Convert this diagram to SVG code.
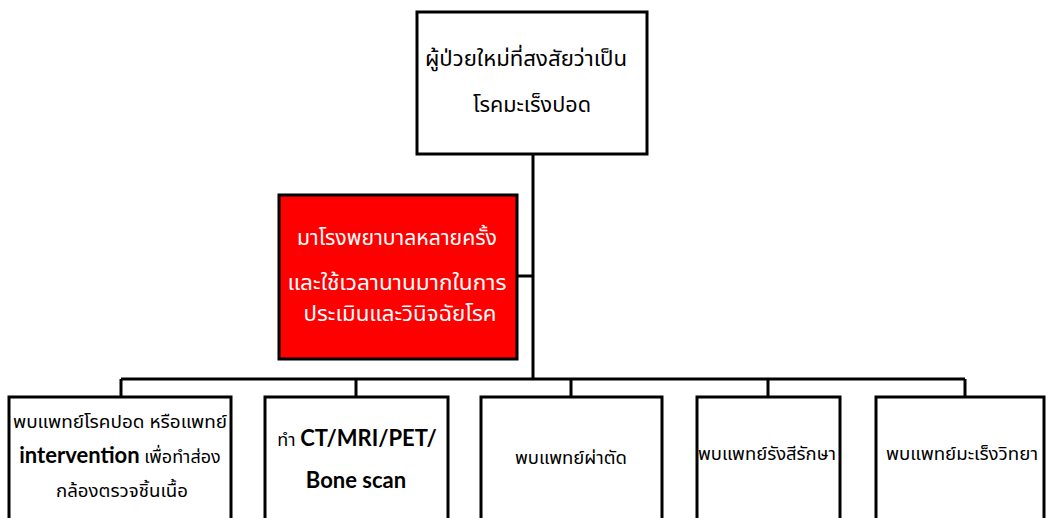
<svg xmlns="http://www.w3.org/2000/svg" width="1048" height="518" viewBox="0 0 1048 518">
<style>
.box{fill:#fff;stroke:#000;stroke-width:3}
.red{fill:#ff0000;stroke:#000;stroke-width:3}
.ln{fill:none;stroke:#000;stroke-width:3}
text{font-family:"Noto Sans Thai","Noto Sans","DejaVu Sans",sans-serif;font-size:21px;fill:#000;text-anchor:middle}
.w{fill:#fff}
.en{font-family:Lato,"Open Sans",sans-serif;font-weight:bold;font-size:22px}
.sm{font-size:18px}
</style>
<rect width="1048" height="518" fill="#fff"/>
<g id="connectors">
<path class="ln" d="M533 154V379M517 276H533M121 379H965M121 379V397M356 379V397M571 379V397M768 379V397M965 379V397"/>
</g>
<g id="n-top">
<rect class="box" x="417" y="12" width="230" height="142"/>
<text x="526" y="66" textLength="202" lengthAdjust="spacingAndGlyphs">ผู้ป่วยใหม่ที่สงสัยว่าเป็น</text>
<text x="532" y="112" textLength="118" lengthAdjust="spacingAndGlyphs">โรคมะเร็งปอด</text>
</g>
<g id="n-red">
<rect class="red" x="279" y="195" width="238" height="164"/>
<text class="w" x="397" y="245" textLength="200" lengthAdjust="spacingAndGlyphs">มาโรงพยาบาลหลายครั้ง</text>
<text class="w" x="397" y="290" textLength="219" lengthAdjust="spacingAndGlyphs">และใช้เวลานานมากในการ</text>
<text class="w" x="400" y="321" textLength="193" lengthAdjust="spacingAndGlyphs">ประเมินและวินิจฉัยโรค</text>
</g>
<g id="n-b1">
<rect class="box" x="9" y="397" width="222" height="135"/>
<text class="sm" x="120" y="428" textLength="214" lengthAdjust="spacingAndGlyphs">พบแพทย์โรคปอด หรือแพทย์</text>
<text x="120" y="463"><tspan class="en">intervention</tspan><tspan class="sm"> เพื่อทำส่อง</tspan></text>
<text class="sm" x="122" y="497" textLength="132" lengthAdjust="spacingAndGlyphs">กล้องตรวจชิ้นเนื้อ</text>
</g>
<g id="n-b2">
<rect class="box" x="265" y="397" width="183" height="135"/>
<text x="357" y="446"><tspan class="sm">ทำ </tspan><tspan class="en">CT/MRI/PET/</tspan></text>
<text class="en" x="356" y="488">Bone scan</text>
</g>
<g id="n-b3">
<rect class="box" x="481" y="397" width="181" height="135"/>
<text class="sm" x="571" y="464" textLength="112" lengthAdjust="spacingAndGlyphs">พบแพทย์ผ่าตัด</text>
</g>
<g id="n-b4">
<rect class="box" x="697" y="397" width="143" height="135"/>
<text class="sm" x="767" y="460" textLength="138" lengthAdjust="spacingAndGlyphs">พบแพทย์รังสีรักษา</text>
</g>
<g id="n-b5">
<rect class="box" x="876" y="397" width="168" height="135"/>
<text class="sm" x="962" y="460" textLength="152" lengthAdjust="spacingAndGlyphs">พบแพทย์มะเร็งวิทยา</text>
</g>
</svg>
